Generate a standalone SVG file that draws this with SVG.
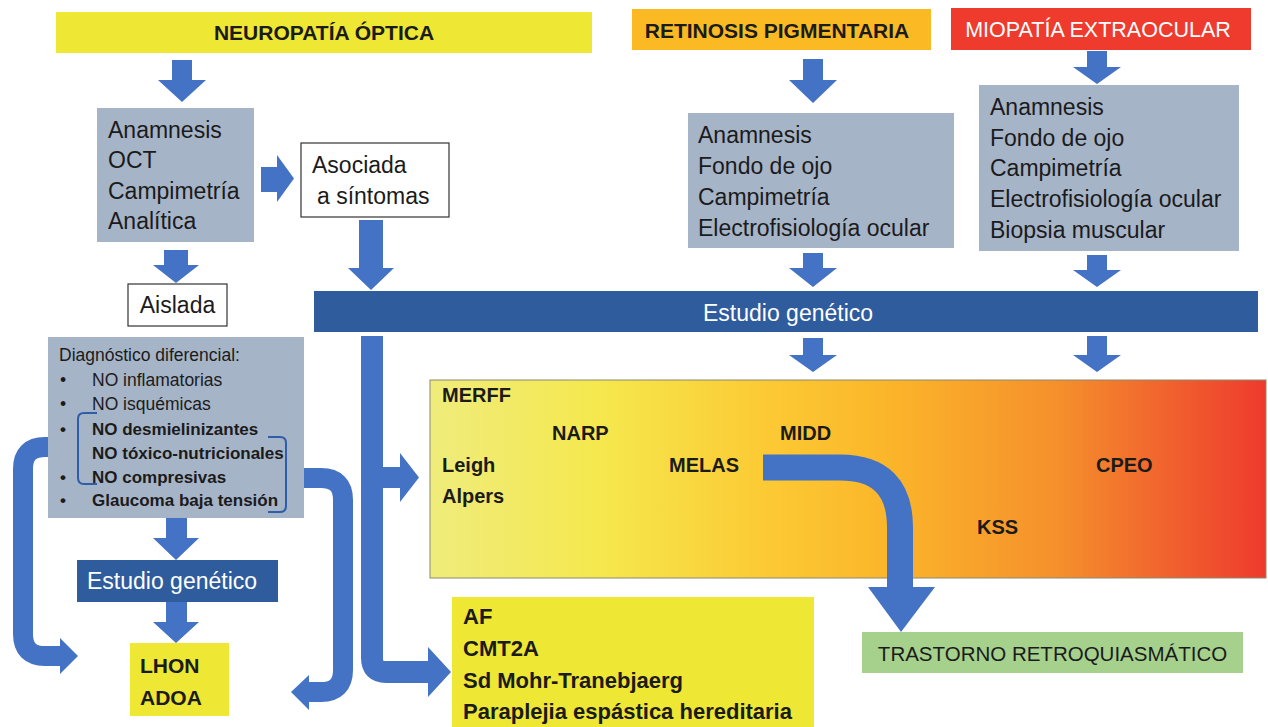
<svg xmlns="http://www.w3.org/2000/svg" width="1268" height="727" viewBox="0 0 1268 727">
<defs>
<linearGradient id="grad" x1="0" y1="0" x2="1" y2="0">
<stop offset="0" stop-color="#EFEC7C"/>
<stop offset="0.2" stop-color="#F5E84E"/>
<stop offset="0.4" stop-color="#FCCA34"/>
<stop offset="0.55" stop-color="#FBB52A"/>
<stop offset="0.75" stop-color="#F5902C"/>
<stop offset="0.9" stop-color="#F05C2E"/>
<stop offset="1" stop-color="#EE3A2D"/>
</linearGradient>
<style>
text{font-family:"Liberation Sans",Arial,sans-serif;fill:#1b1b1b}
.t{font-size:21px;font-weight:bold}
.b{font-size:23px}
.d{font-size:17.5px}
.db{font-size:17px;font-weight:bold}
.g{font-size:20px;font-weight:bold}
.y{font-size:22px;font-weight:bold}
.w{fill:#fff}
.gray{fill:#A6B4C8}
.arr{fill:#4472C4}
.bent{fill:none;stroke:#4472C4}
.bar{fill:#2E5C9C}
.box{fill:#fff;stroke:#333;stroke-width:1.2}
.br{fill:none;stroke:#2F5DA8;stroke-width:2}
</style>
</defs>
<rect width="1268" height="727" fill="#fff"/>

<g id="connectors">
<polygon class="arr" points="172,60 192,60 192,80 206,80 182,102 158,80 172,80"/>
<polygon class="arr" points="164,250 188,250 188,265 199,265 176,283 153,265 164,265"/>
<polygon class="arr" points="359,220 383,220 383,268 394,268 371,290 348,268 359,268"/>
<polygon class="arr" points="261,167 277,167 277,155 294,178.5 277,202 277,192 261,192"/>
<polygon class="arr" points="803,59 823,59 823,80 837,80 813,103 789,80 803,80"/>
<polygon class="arr" points="1087,51 1107,51 1107,67 1121,67 1097,84 1073,67 1087,67"/>
<polygon class="arr" points="803,253 823,253 823,268 837,268 813,287 789,268 803,268"/>
<polygon class="arr" points="1087,255 1107,255 1107,270 1121,270 1097,287 1073,270 1087,270"/>
<polygon class="arr" points="803,338 823,338 823,355 837,355 813,372 789,355 803,355"/>
<polygon class="arr" points="1087,336 1107,336 1107,355 1121,355 1097,372 1073,355 1087,355"/>
<polygon class="arr" points="166,518 187,518 187,538 199,538 176,560 153,538 166,538"/>
<polygon class="arr" points="166,602 187,602 187,622 199,622 176,643 153,622 166,622"/>
<!-- main vertical from Estudio bar -->
<path class="bent" stroke-width="22" d="M372,336 V658 Q372,672 386,672 H430"/>
<polygon class="arr" points="428,647 451,672 428,697"/>
<!-- branch to gradient box -->
<rect class="arr" x="382" y="467" width="20" height="21"/>
<polygon class="arr" points="400,453 419,477.5 400,502"/>
<!-- left bent arrow -->
<path class="bent" stroke-width="20" d="M78,447 H45 Q23,447 23,469 V634 Q23,656 45,656 H62"/>
<polygon class="arr" points="60,638 78,656 60,674"/>
<!-- right bent arrow -->
<path class="bent" stroke-width="20" d="M286,478 H321 Q343,478 343,500 V670 Q343,692 321,692 H307"/>
<polygon class="arr" points="309,675 291,692 309,710"/>
</g>

<g id="neuropatia">
<rect x="56" y="12" width="536" height="41" fill="#EEE733"/>
<text class="t" x="324" y="40" text-anchor="middle">NEUROPATÍA ÓPTICA</text>
</g>
<g id="retinosis">
<rect x="632" y="9" width="299" height="41" fill="#FBBA23"/>
<text class="t" x="777" y="37.5" text-anchor="middle">RETINOSIS PIGMENTARIA</text>
</g>
<g id="miopatia">
<rect x="951" y="8" width="300" height="42" fill="#EE3B2E"/>
<text class="w" x="1098" y="37" text-anchor="middle" font-size="21.5">MIOPATÍA EXTRAOCULAR</text>
</g>

<g id="pruebas-neuro">
<rect class="gray" x="97" y="108" width="157" height="134"/>
<text class="b" x="108" y="138">Anamnesis</text>
<text class="b" x="108" y="168">OCT</text>
<text class="b" x="108" y="199">Campimetría</text>
<text class="b" x="108" y="229">Analítica</text>
</g>
<g id="asociada">
<rect class="box" x="301" y="143" width="148" height="74"/>
<text class="b" x="312" y="173">Asociada</text>
<text class="b" x="317" y="204">a síntomas</text>
</g>
<g id="aislada">
<rect class="box" x="128" y="284" width="99" height="42"/>
<text class="b" x="177.5" y="313" text-anchor="middle">Aislada</text>
</g>

<g id="pruebas-retinosis">
<rect class="gray" x="688" y="113" width="266" height="135"/>
<text class="b" x="698" y="143">Anamnesis</text>
<text class="b" x="698" y="174">Fondo de ojo</text>
<text class="b" x="698" y="205">Campimetría</text>
<text class="b" x="698" y="236">Electrofisiología ocular</text>
</g>
<g id="pruebas-miopatia">
<rect class="gray" x="979" y="85" width="260" height="166"/>
<text class="b" x="990" y="115">Anamnesis</text>
<text class="b" x="990" y="146">Fondo de ojo</text>
<text class="b" x="990" y="176">Campimetría</text>
<text class="b" x="990" y="207">Electrofisiología ocular</text>
<text class="b" x="990" y="238">Biopsia muscular</text>
</g>

<g id="estudio-genetico">
<rect class="bar" x="314" y="291" width="944" height="41"/>
<text class="b w" x="703" y="321">Estudio genético</text>
</g>

<g id="diagnostico">
<rect class="gray" x="48" y="337" width="256" height="181"/>
<text class="d" x="59" y="361">Diagnóstico diferencial:</text>
<text class="d" x="60" y="386">•</text>
<text class="d" x="92" y="386">NO inflamatorias</text>
<text class="d" x="60" y="410">•</text>
<text class="d" x="92" y="410">NO isquémicas</text>
<text class="db" x="60" y="435">•</text>
<text class="db" x="92" y="435">NO desmielinizantes</text>
<text class="db" x="92" y="459">NO tóxico-nutricionales</text>
<text class="db" x="60" y="483">•</text>
<text class="db" x="92" y="483">NO compresivas</text>
<text class="db" x="60" y="506">•</text>
<text class="db" x="92" y="506">Glaucoma baja tensión</text>
<path class="br" d="M97,413 H84 Q78,413 78,419 V478 Q78,484 84,484 H97"/>
<path class="br" d="M268,437 H280 Q286,437 286,443 V506 Q286,512 280,512 H268"/>
</g>

<g id="estudio-genetico-2">
<rect class="bar" x="77" y="560" width="201" height="42"/>
<text class="b w" x="87" y="589">Estudio genético</text>
</g>

<g id="lhon-adoa">
<rect x="130" y="643" width="99" height="73" fill="#EEE733"/>
<text class="t" x="140" y="673">LHON</text>
<text class="t" x="140" y="705">ADOA</text>
</g>

<g id="sindromes">
<rect x="430" y="380" width="836" height="198" fill="url(#grad)" stroke="#8a8a70" stroke-width="1"/>
<text class="g" x="442" y="402">MERFF</text>
<text class="g" x="552" y="440">NARP</text>
<text class="g" x="780" y="440">MIDD</text>
<text class="g" x="442" y="472">Leigh</text>
<text class="g" x="669" y="472">MELAS</text>
<text class="g" x="1096" y="472">CPEO</text>
<text class="g" x="442" y="503">Alpers</text>
<text class="g" x="977" y="534">KSS</text>
</g>

<g id="curved-arrow">
<path class="bent" stroke-width="26" d="M763,467.5 H840 Q900,467.5 900,527.5 V590"/>
<polygon class="arr" points="868,587 935,587 901,632"/>
</g>

<g id="otros">
<rect x="452" y="597" width="362" height="130" fill="#EEE733"/>
<text class="y" x="463" y="624">AF</text>
<text class="y" x="463" y="656">CMT2A</text>
<text class="y" x="463" y="688">Sd Mohr-Tranebjaerg</text>
<text class="y" x="463" y="719">Paraplejia espástica hereditaria</text>
</g>

<g id="retroquiasmatico">
<rect x="862" y="632" width="381" height="41" fill="#A5D18C"/>
<text x="1052.5" y="661" text-anchor="middle" font-size="20.5">TRASTORNO RETROQUIASMÁTICO</text>
</g>
</svg>
